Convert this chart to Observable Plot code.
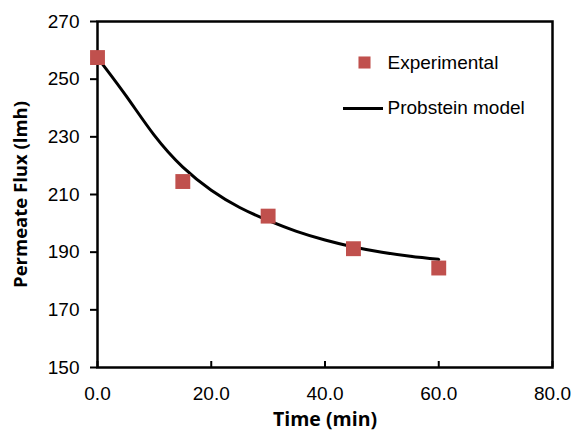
<!DOCTYPE html>
<html>
<head>
<meta charset="utf-8">
<script src="https://cdn.jsdelivr.net/npm/d3@7"></script>
<script src="https://cdn.jsdelivr.net/npm/@observablehq/plot@0.6"></script>
<style>
  html, body { margin: 0; padding: 0; background: #fff; }
</style>
</head>
<body>
<div id="chart"></div>
<script>
// Data
const timeExp = [0, 15, 30, 45, 60];
const fluxExp = [257.5, 214.5, 202.5, 191.2, 184.5];
const timeModel = [0, 5, 10, 15, 20, 25, 30, 35, 40, 45, 50, 55, 60];
const fluxModel = [257.5, 244.3, 230.5, 219.5, 211.5, 205.5, 201, 197.2, 194.2, 191.8, 190, 188.6, 187.5];
const xTicks = [0, 20, 40, 60, 80];
const yTicks = [150, 170, 190, 210, 230, 250, 270];
const seriesNames = ["Experimental", "Probstein model"];
const xTitle = "Time (min)";
const yTitle = "Permeate Flux (lmh)";

const expData = timeExp.map((t, i) => ({t, v: fluxExp[i]}));
const modelData = timeModel.map((t, i) => ({t, v: fluxModel[i]}));

const RED = "#C0504D";
const tickFont = "Liberation Sans, Arial, sans-serif";
const titleFont = "'Open Sans', Lato, sans-serif";

const lineSymbol = {
  draw(context, size) {
    context.moveTo(-20, 0);
    context.lineTo(20, 0);
  }
};

const chart = Plot.plot({
  width: 577,
  height: 432,
  marginLeft: 97,
  marginRight: 25,
  marginTop: 21,
  marginBottom: 65,
  style: {fontFamily: tickFont, background: "#fff", color: "#000"},
  x: {domain: [0, 80]},
  y: {domain: [150, 270]},
  marks: [
    Plot.axisY({ticks: yTicks, tickSize: 7, tickPadding: 11, fontSize: 19, strokeWidth: 2, label: null}),
    Plot.axisX({ticks: xTicks, tickSize: 0, tickPadding: 19, fontSize: 19, tickFormat: d => d.toFixed(1), label: null}),
    Plot.axisX({ticks: xTicks, tickSize: 6, dy: -6, strokeWidth: 2, tickFormat: () => "", label: null}),
    Plot.frame({stroke: "#000", strokeWidth: 2.5}),
    Plot.line(modelData, {x: "t", y: "v", curve: "natural", stroke: "#000", strokeWidth: 3}),
    Plot.dot(expData, {x: "t", y: "v", symbol: "square", r: 8.4, fill: RED, stroke: null}),
    // legend
    Plot.dot([0], {frameAnchor: "top-left", dx: 267, dy: 41, symbol: "square", r: 6.8, fill: RED, stroke: null}),
    Plot.text([seriesNames[0]], {frameAnchor: "top-left", dx: 290, dy: 41, lineAnchor: "middle", text: d => d, textAnchor: "start", fontSize: 19, fill: "#000"}),
    Plot.dot([0], {frameAnchor: "top-left", dx: 265.5, dy: 87, symbol: lineSymbol, r: 5, stroke: "#000", strokeWidth: 3, fill: "none"}),
    Plot.text([seriesNames[1]], {frameAnchor: "top-left", dx: 290, dy: 86, lineAnchor: "middle", text: d => d, textAnchor: "start", fontSize: 19, fill: "#000"}),
    // axis titles
    Plot.text([xTitle], {frameAnchor: "bottom", dy: 52, lineAnchor: "middle", textAnchor: "middle", text: d => d, fontSize: 19.5, fontWeight: "bold", fontFamily: titleFont, fill: "#000"}),
    Plot.text([yTitle], {frameAnchor: "left", dx: -76, rotate: -90, lineAnchor: "middle", textAnchor: "middle", text: d => d, fontSize: 18.5, fontWeight: "bold", fontFamily: titleFont, fill: "#000"})
  ]
});
document.getElementById("chart").appendChild(chart);
</script>
</body>
</html>
